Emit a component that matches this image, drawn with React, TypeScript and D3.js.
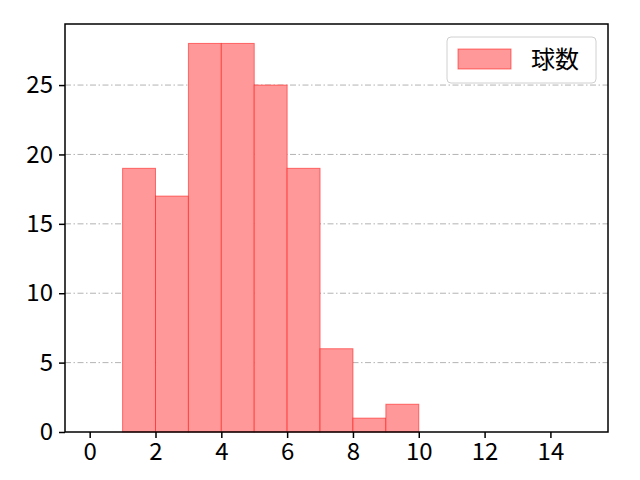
import { useEffect, useRef } from "react";
import * as d3 from "d3";

const binStarts = [1, 2, 3, 4, 5, 6, 7, 8, 9];
const counts = [19, 17, 28, 28, 25, 19, 6, 1, 2];
const xTicks = [0, 2, 4, 6, 8, 10, 12, 14];
const yTicks = [0, 5, 10, 15, 20, 25];
const seriesLabel = "球数";

const width = 640;
const height = 480;
const margin = { top: 24, right: 32, bottom: 48, left: 65 };
const font = "'Noto Sans CJK JP', 'DejaVu Sans', sans-serif";

export default function App() {
  const svgRef = useRef<SVGSVGElement>(null);

  useEffect(() => {
    if (!svgRef.current) return;
    const svg = d3.select(svgRef.current);
    svg.selectAll("*").remove();

    const innerWidth = width - margin.left - margin.right;
    const innerHeight = height - margin.top - margin.bottom;

    const x = d3.scaleLinear().domain([-0.75, 15.75]).range([0, innerWidth]);
    const y = d3.scaleLinear().domain([0, 29.4]).range([innerHeight, 0]);

    svg.append("rect").attr("width", width).attr("height", height).attr("fill", "#fff");

    const g = svg
      .append("g")
      .attr("transform", `translate(${margin.left},${margin.top})`);

    // grid
    g.selectAll(".grid")
      .data(yTicks.filter((t) => t > 0))
      .enter()
      .append("line")
      .attr("x1", 0)
      .attr("x2", innerWidth)
      .attr("y1", (d) => y(d))
      .attr("y2", (d) => y(d))
      .attr("stroke", "#aaaaaa")
      .attr("stroke-width", 0.9)
      .attr("stroke-dasharray", "6,2.5,1.5,2.5");

    // bars
    g.selectAll(".bar")
      .data(binStarts)
      .enter()
      .append("rect")
      .attr("x", (d) => x(d))
      .attr("y", (_, i) => y(counts[i]))
      .attr("width", (d) => x(d + 1) - x(d))
      .attr("height", (_, i) => innerHeight - y(counts[i]))
      .attr("fill", "rgb(255,153,153)")
      .attr("stroke", "rgba(255,0,0,0.5)")
      .attr("stroke-width", 1);

    // frame
    g.append("rect")
      .attr("width", innerWidth)
      .attr("height", innerHeight)
      .attr("fill", "none")
      .attr("stroke", "#000")
      .attr("stroke-width", 1.5);

    const xAxis = g
      .append("g")
      .attr("transform", `translate(0,${innerHeight})`)
      .call(d3.axisBottom(x).tickValues(xTicks).tickSize(6).tickPadding(5));
    const yAxis = g
      .append("g")
      .call(d3.axisLeft(y).tickValues(yTicks).tickSize(6).tickPadding(6));

    [xAxis, yAxis].forEach((a) => {
      a.attr("font-size", null).attr("font-family", null);
      a.select(".domain").remove();
      a.selectAll(".tick line").attr("stroke", "#000").attr("stroke-width", 1.5);
      a.selectAll("text")
        .style("font-family", font)
        .style("font-size", "24px")
        .attr("fill", "#000");
    });

    // legend
    const legend = g.append("g").attr("transform", `translate(${innerWidth - 161},13)`);
    legend
      .append("rect")
      .attr("width", 149)
      .attr("height", 46)
      .attr("rx", 4)
      .attr("fill", "#fff")
      .attr("fill-opacity", 0.8)
      .attr("stroke", "#d0d0d0");
    legend
      .append("rect")
      .attr("x", 11)
      .attr("y", 12)
      .attr("width", 53)
      .attr("height", 20)
      .attr("fill", "rgb(255,153,153)")
      .attr("stroke", "rgba(255,0,0,0.5)");
    legend
      .append("text")
      .attr("x", 84)
      .attr("y", 31)
      .style("font-family", font)
      .style("font-size", "24px")
      .attr("fill", "#000")
      .text(seriesLabel);
  }, []);

  return (
    <svg
      ref={svgRef}
      width={width}
      height={height}
      style={{ position: "absolute", left: 0, top: 0 }}
    />
  );
}
